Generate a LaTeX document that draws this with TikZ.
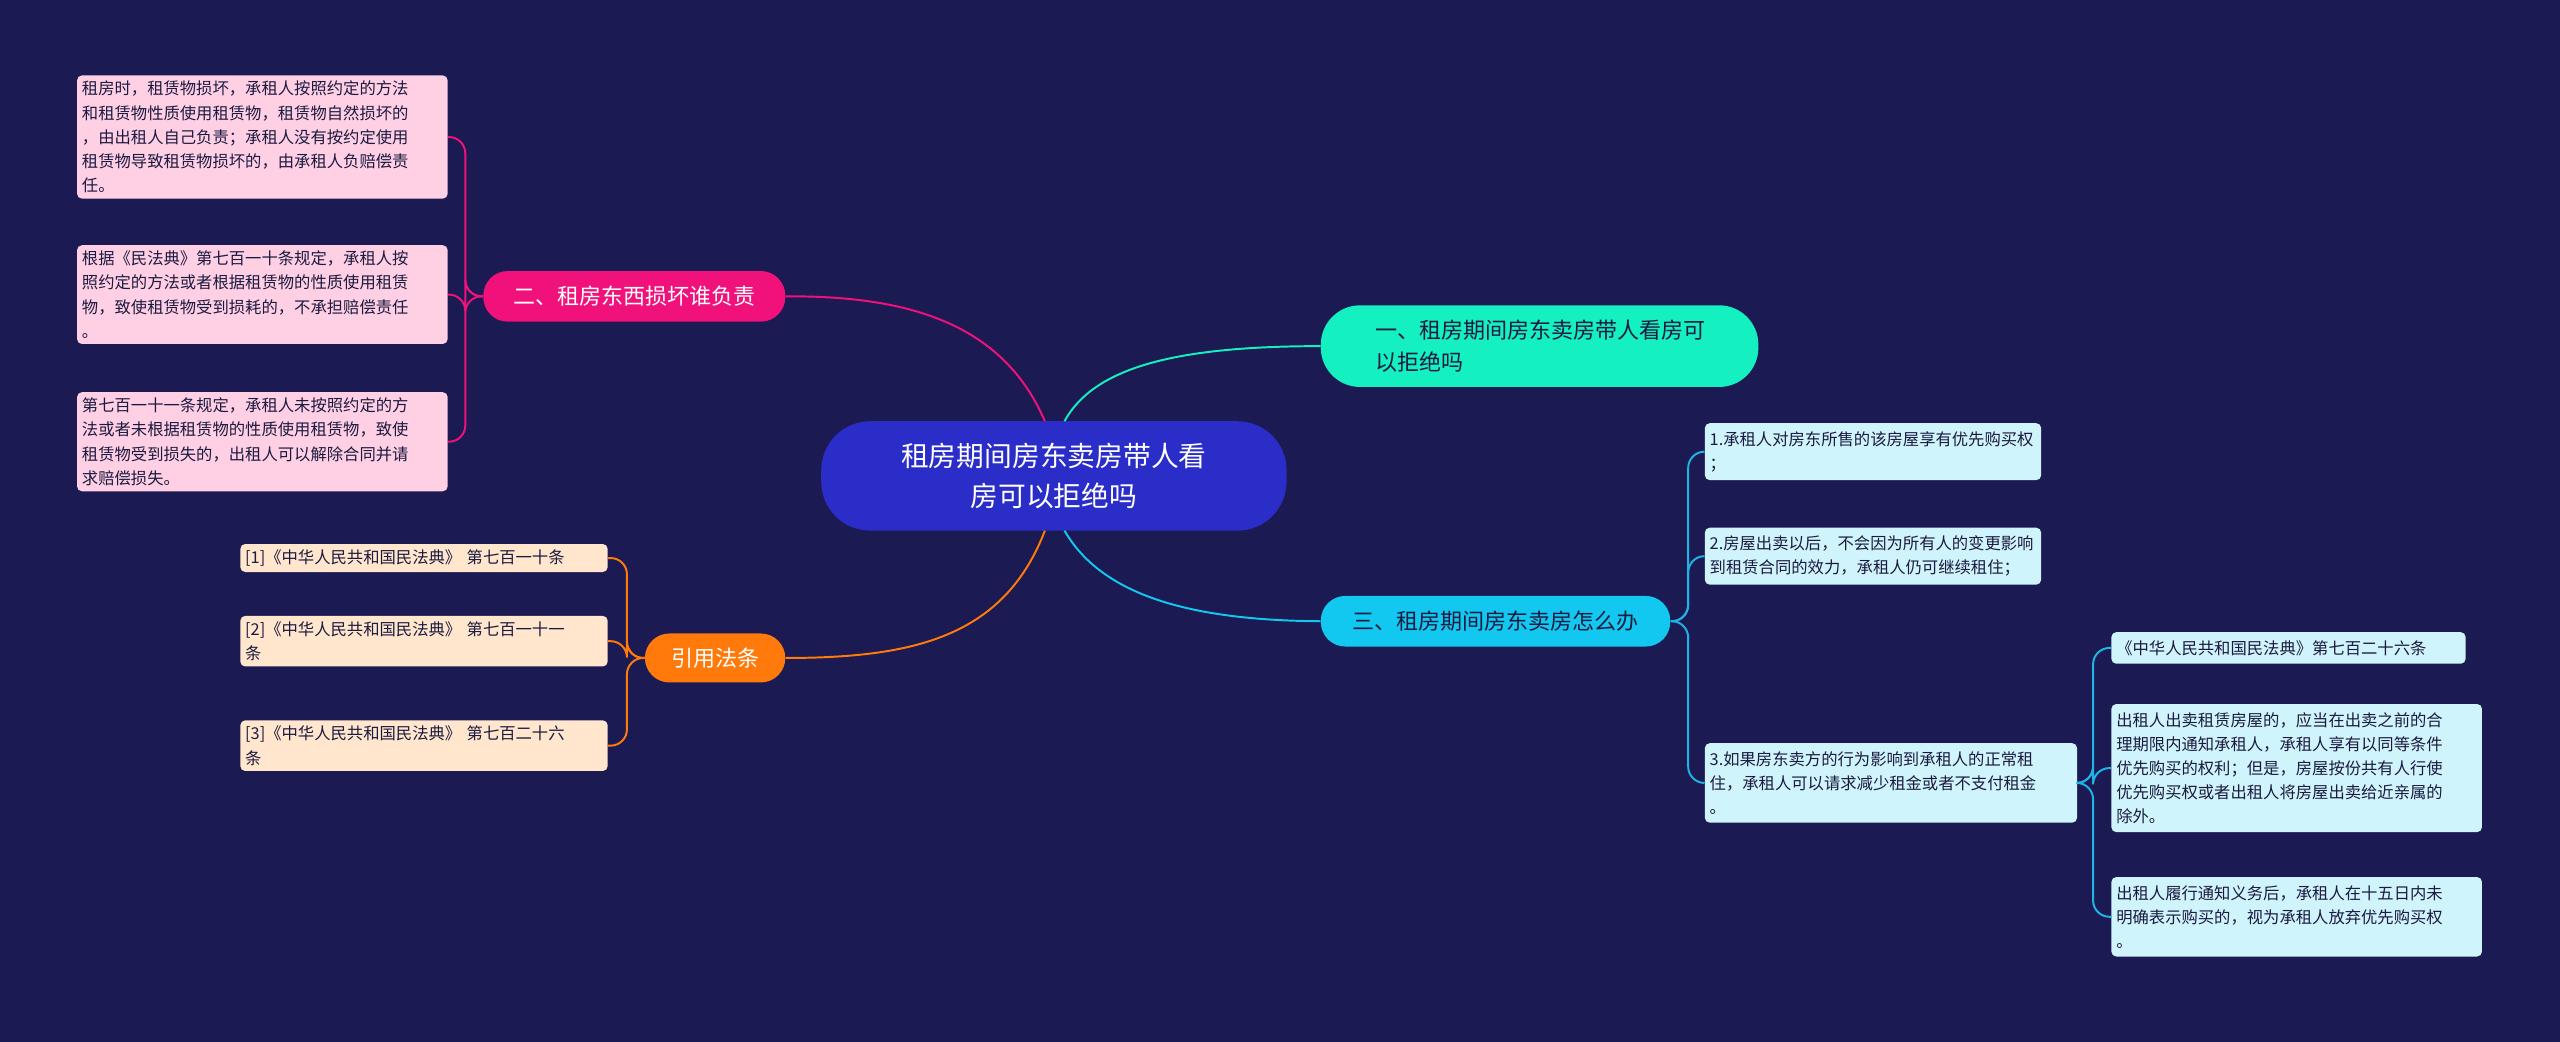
\documentclass[tikz,border=0pt]{standalone}
\usepackage{fontspec}
\setmainfont{Noto Sans CJK SC}
\definecolor{bg}{HTML}{1B1A52}
\definecolor{cmain}{HTML}{2A2DC8}
\definecolor{cone}{HTML}{14F0C0}
\definecolor{ctwo}{HTML}{F0127A}
\definecolor{cthree}{HTML}{12C8F0}
\definecolor{cref}{HTML}{FF7A0A}
\definecolor{lpink}{HTML}{FFD0E4}
\definecolor{lorange}{HTML}{FFE6CC}
\definecolor{lcyan}{HTML}{D0F4FC}
\definecolor{dtext}{HTML}{1B1A40}
\definecolor{lcline}{HTML}{1EB4E6}
\begin{document}
\begin{tikzpicture}[x=1pt,y=-1pt,
  pill/.style={rounded corners=15pt,inner sep=0pt,align=left},
  leaf/.style={rounded corners=3pt,anchor=north west,inner xsep=3pt,inner ysep=3.5pt,align=left,text=dtext,font=\fontsize{10}{14.8}\selectfont},
  cleaf/.style={leaf,fill=lcyan,inner ysep=5pt},
  lk/.style={line width=1.2pt,rounded corners=10pt}]
\fill[bg] (0,0) rectangle (1568,638);
\useasboundingbox (0,0) rectangle (1568,638);
% main nodes
\node[pill,fill=cmain,minimum width=285pt,minimum height=67pt,rounded corners=30pt,text=white,align=center,font=\fontsize{17}{24}\selectfont] (c) at (645.5,291.5) {租房期间房东卖房带人看\\房可以拒绝吗};
\node[pill,fill=cone,minimum width=268pt,minimum height=50pt,rounded corners=24pt,text=dtext,font=\fontsize{13.5}{20}\selectfont] (n1) at (943,212) {\hspace*{1pt}一、租房期间房东卖房带人看房可\\\hspace*{1pt}以拒绝吗\hspace*{110pt}};
\node[pill,fill=ctwo,minimum width=185pt,minimum height=31pt,text=white,align=center,font=\fontsize{13.5}{18}\selectfont] (n2) at (388.5,181.5) {二、租房东西损坏谁负责};
\node[pill,fill=cthree,minimum width=214pt,minimum height=31pt,text=dtext,align=center,font=\fontsize{13.5}{18}\selectfont] (n3) at (916,380.5) {三、租房期间房东卖房怎么办};
\node[pill,fill=cref,minimum width=86pt,minimum height=30pt,text=white,align=center,font=\fontsize{13.5}{18}\selectfont] (n4) at (438,403) {引用法条};
% pink leaves
\node[leaf,fill=lpink,text width=221pt] (p1) at (47,46) {租房时，租赁物损坏，承租人按照约定的方法\\和租赁物性质使用租赁物，租赁物自然损坏的\\，由出租人自己负责；承租人没有按约定使用\\租赁物导致租赁物损坏的，由承租人负赔偿责\\任。};
\node[leaf,fill=lpink,text width=221pt] (p2) at (47,150) {根据《民法典》第七百一十条规定，承租人按\\照约定的方法或者根据租赁物的性质使用租赁\\物，致使租赁物受到损耗的，不承担赔偿责任\\。};
\node[leaf,fill=lpink,text width=221pt] (p3) at (47,240) {第七百一十一条规定，承租人未按照约定的方\\法或者未根据租赁物的性质使用租赁物，致使\\租赁物受到损失的，出租人可以解除合同并请\\求赔偿损失。};
% orange leaves
\node[leaf,fill=lorange,text width=219pt] (r1) at (147,333) {[1]《中华人民共和国民法典》 第七百一十条};
\node[leaf,fill=lorange,text width=219pt] (r2) at (147,377) {[2]《中华人民共和国民法典》 第七百一十一\\条};
\node[leaf,fill=lorange,text width=219pt] (r3) at (147,441) {[3]《中华人民共和国民法典》 第七百二十六\\条};
% cyan leaves
\node[cleaf,text width=200pt] (q1) at (1044,259) {1.承租人对房东所售的该房屋享有优先购买权\\；};
\node[cleaf,text width=200pt] (q2) at (1044,323) {2.房屋出卖以后，不会因为所有人的变更影响\\到租赁合同的效力，承租人仍可继续租住；};
\node[cleaf,text width=222pt] (q3) at (1044,455) {3.如果房东卖方的行为影响到承租人的正常租\\住，承租人可以请求减少租金或者不支付租金\\。};
\node[cleaf,text width=211pt] (d1) at (1293,387) {《中华人民共和国民法典》第七百二十六条};
\node[cleaf,text width=221pt] (d2) at (1293,431) {出租人出卖租赁房屋的，应当在出卖之前的合\\理期限内通知承租人，承租人享有以同等条件\\优先购买的权利；但是，房屋按份共有人行使\\优先购买权或者出租人将房屋出卖给近亲属的\\除外。};
\node[cleaf,text width=221pt] (d3) at (1293,537) {出租人履行通知义务后，承租人在十五日内未\\明确表示购买的，视为承租人放弃优先购买权\\。};
% brackets
\coordinate (b2) at (285,0);
\coordinate (b4) at (384,0);
\coordinate (b3) at (1034,0);
\coordinate (b5) at (1282,0);
\foreach \t in {p1,p2,p3}{\draw[lk,ctwo] (n2.west) -| (b2 |- \t.east) -- (\t.east);}
\foreach \t in {r1,r2,r3}{\draw[lk,cref] (n4.west) -| (b4 |- \t.east) -- (\t.east);}
\foreach \t in {q1,q2,q3}{\draw[lk,lcline] (n3.east) -| (b3 |- \t.west) -- (\t.west);}
\foreach \t in {d1,d2,d3}{\draw[lk,lcline] (q3.east) -| (b5 |- \t.west) -- (\t.west);}
% main curves
\coordinate (c1) at (652,258);
\coordinate (c2) at (640,258);
\coordinate (c3) at (652,325);
\coordinate (c4) at (640,325);
\draw[line width=1.2pt,cone] (c1) .. controls (670,225) and (720,212) .. (n1.west);
\draw[line width=1.2pt,ctwo] (c2) .. controls (615,200) and (560,181) .. (n2.east);
\draw[line width=1.2pt,cthree] (c3) .. controls (675,365) and (730,380) .. (n3.west);
\draw[line width=1.2pt,cref] (c4) .. controls (615,390) and (560,403) .. (n4.east);
\end{tikzpicture}
\end{document}
